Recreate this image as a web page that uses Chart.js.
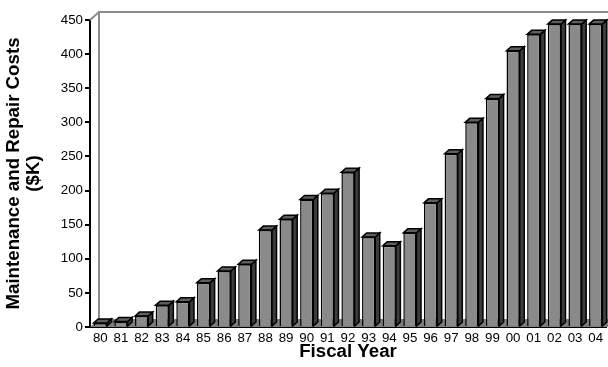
<!DOCTYPE html>
<html>
<head>
<meta charset="utf-8">
<script src="https://cdn.jsdelivr.net/npm/chart.js@4/dist/chart.umd.min.js"></script>
<style>
  html, body { margin: 0; padding: 0; background: #fff; }
  #wrap { width: 608px; height: 367px; position: relative; }
</style>
</head>
<body>
<div id="wrap"><canvas id="c" width="608" height="367"></canvas></div>
<script>
// Fiscal years (two-digit) and annual maintenance & repair costs in $K
const years = ['80','81','82','83','84','85','86','87','88','89','90','91','92',
               '93','94','95','96','97','98','99','00','01','02','03','04'];
const costs = [6, 8, 16, 32, 37, 65, 82, 92, 142, 158, 187, 196, 227,
               132, 119, 138, 182, 254, 300, 335, 405, 429, 444, 444, 444];
const yTicks = [0, 50, 100, 150, 200, 250, 300, 350, 400, 450];

const FONT = 'Liberation Sans, Arial, Helvetica, sans-serif';
const WALL_DX = 9, WALL_DY = 8;   // depth of back wall / floor
const BAR_DX = 4.5, BAR_DY = 4;   // depth of each column

// Back wall outline and floor slab behind the columns
const wallPlugin = {
  id: 'wall',
  beforeDatasetsDraw(chart) {
    const { ctx, chartArea: a } = chart;
    ctx.save();
    // floor
    ctx.fillStyle = '#7c7c7c';
    ctx.beginPath();
    ctx.moveTo(a.left, a.bottom);
    ctx.lineTo(a.left + WALL_DX, a.bottom - WALL_DY);
    ctx.lineTo(chart.width, a.bottom - WALL_DY);
    ctx.lineTo(chart.width, a.bottom);
    ctx.closePath();
    ctx.fill();
    // wall edges
    ctx.strokeStyle = '#8c8c8c';
    ctx.lineWidth = 2;
    ctx.beginPath();
    ctx.moveTo(a.left + WALL_DX, a.bottom - WALL_DY);
    ctx.lineTo(a.left + WALL_DX, a.top - WALL_DY);
    ctx.lineTo(chart.width, a.top - WALL_DY);
    ctx.stroke();
    ctx.beginPath();
    ctx.moveTo(a.left, a.top);
    ctx.lineTo(a.left + WALL_DX, a.top - WALL_DY);
    ctx.stroke();
    ctx.restore();
  }
};

// Side and top faces that give each column its 3-D look
const columnPlugin = {
  id: 'columns3d',
  afterDatasetsDraw(chart) {
    const { ctx } = chart;
    const meta = chart.getDatasetMeta(0);
    ctx.save();
    ctx.lineJoin = 'miter';
    ctx.strokeStyle = '#000';
    ctx.lineWidth = 1.5;
    meta.data.forEach(bar => {
      const p = bar.getProps(['x', 'y', 'base', 'width'], true);
      const x0 = p.x - p.width / 2, x1 = p.x + p.width / 2;
      const yt = p.y, yb = p.base;
      // right side
      ctx.fillStyle = '#3c3c3c';
      ctx.beginPath();
      ctx.moveTo(x1, yt);
      ctx.lineTo(x1 + BAR_DX, yt - BAR_DY);
      ctx.lineTo(x1 + BAR_DX, yb - BAR_DY);
      ctx.lineTo(x1, yb);
      ctx.closePath();
      ctx.fill();
      ctx.stroke();
      // top
      ctx.fillStyle = '#5e5e5e';
      ctx.beginPath();
      ctx.moveTo(x0, yt);
      ctx.lineTo(x0 + BAR_DX, yt - BAR_DY);
      ctx.lineTo(x1 + BAR_DX, yt - BAR_DY);
      ctx.lineTo(x1, yt);
      ctx.closePath();
      ctx.fill();
      ctx.stroke();
    });
    ctx.restore();
  }
};

new Chart(document.getElementById('c'), {
  type: 'bar',
  data: {
    labels: years,
    datasets: [{
      data: costs,
      backgroundColor: '#8a8a8a',
      borderColor: '#000',
      borderWidth: 1.5,
      categoryPercentage: 1,
      barPercentage: 0.64
    }]
  },
  plugins: [wallPlugin, columnPlugin],
  options: {
    responsive: false,
    animation: false,
    layout: { padding: { top: 20, right: 2, left: 0, bottom: 0 } },
    plugins: { legend: { display: false }, tooltip: { enabled: false } },
    scales: {
      x: {
        offset: true,
        grid: { display: false, drawTicks: false, tickLength: 0 },
        border: { display: true, color: '#000', width: 2 },
        ticks: { color: '#000', font: { family: FONT, size: 13.3 }, padding: 3, maxRotation: 0, autoSkip: false },
        title: {
          display: true, text: 'Fiscal Year', color: '#000',
          font: { family: FONT, size: 18.7, weight: 'bold', lineHeight: 1.2 },
          padding: { top: 0, bottom: 4 }
        },
        afterFit(scale) { scale.height = 40; }
      },
      y: {
        min: 0, max: 450,
        afterBuildTicks(scale) { scale.ticks = yTicks.map(v => ({ value: v })); },
        grid: { drawOnChartArea: false, drawTicks: true, tickLength: 5, color: '#000', lineWidth: 2 },
        border: { display: true, color: '#000', width: 2 },
        ticks: { color: '#000', font: { family: FONT, size: 13.3 }, padding: 2 },
        title: {
          display: true, text: ['Maintenance and Repair Costs', '($K)'], color: '#000',
          font: { family: FONT, size: 18.7, weight: 'bold', lineHeight: 1.07 },
          padding: { top: 4, bottom: 0 }
        },
        afterFit(scale) { scale.width = 90; }
      }
    }
  }
});
</script>
</body>
</html>
